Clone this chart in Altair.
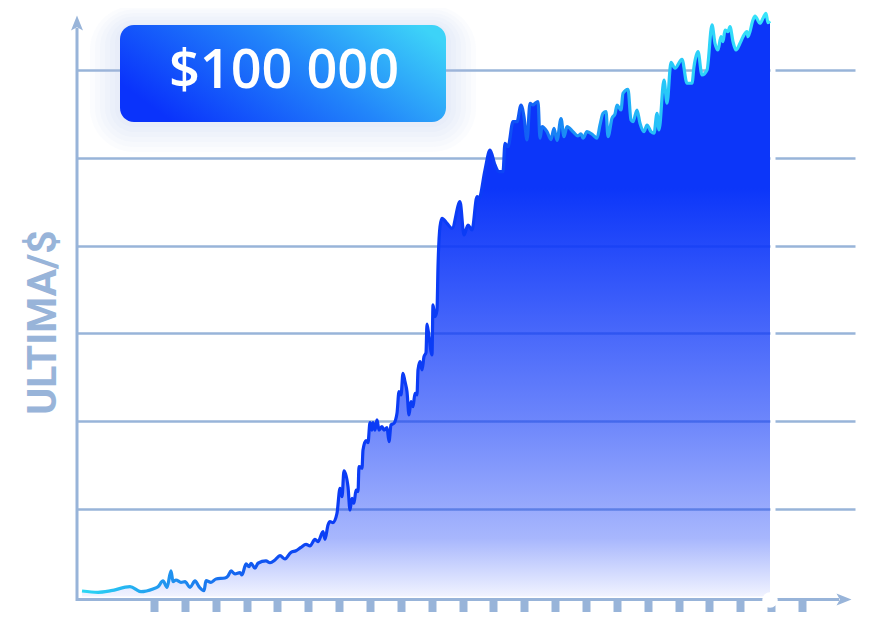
import altair as alt
import pandas as pd

# ---- data ----
days = [0, 16, 29, 48, 59, 71, 76, 81, 85, 89, 91, 94, 99, 103, 108, 113, 117, 122, 124, 129,
        134, 143, 146, 149, 153, 158, 160, 164, 167, 169, 173, 176, 184, 188, 193, 198, 203, 209, 214, 219,
        224, 228, 233, 236, 241, 243, 246, 248, 251, 255, 258, 260, 262, 266, 268, 270, 272, 274, 276, 277,
        280, 281, 284, 286, 288, 290, 291, 293, 295, 297, 300, 302, 305, 307, 309, 312, 315, 317, 319, 321,
        323, 325, 327, 329, 331, 333, 335, 336, 338, 340, 342, 344, 345, 347, 350, 351, 353, 355, 356, 358,
        360, 365, 370, 378, 382, 386, 390, 395, 397, 403, 408, 413, 417, 421, 423, 426, 431, 435, 439, 442,
        445, 448, 451, 453, 456, 458, 460, 465, 469, 472, 475, 479, 482, 485, 491, 496, 499, 501, 505, 511,
        515, 518, 521, 524, 526, 530, 533, 535, 539, 541, 546, 549, 551, 555, 558, 562, 565, 569, 572, 575,
        577, 582, 585, 589, 593, 600, 605, 610, 612, 616, 620, 625, 630, 633, 636, 639, 641, 643, 646, 648,
        651, 654, 658, 661, 665, 666, 671, 673, 678, 681, 684, 686, 688]
values = [0.63, 0.48, 0.66, 1.12, 0.55, 0.86, 1.12, 1.77, 1.05, 2.91, 1.69, 1.88, 1.62, 1.69, 1.05, 1.77, 1.12, 0.66, 1.80, 1.62,
          2.00, 2.11, 2.34, 2.91, 2.57, 2.71, 2.45, 3.71, 3.40, 3.79, 3.22, 3.79, 4.05, 3.85, 4.16, 4.65, 4.28, 5.04, 5.22, 5.61,
          5.95, 5.76, 6.52, 6.25, 7.39, 6.52, 8.15, 8.53, 8.42, 9.49, 12.34, 11.38, 14.34, 12.52, 9.86, 11.20, 10.63, 12.14, 11.95, 14.80,
          14.62, 16.70, 17.77, 17.54, 19.82, 18.98, 19.82, 18.98, 20.13, 18.98, 19.36, 18.98, 19.25, 17.65, 19.56, 19.75, 20.89, 23.35, 22.98, 25.45,
          24.49, 23.35, 20.70, 22.21, 21.64, 23.17, 22.98, 25.83, 26.77, 25.83, 27.34, 27.80, 31.07, 29.62, 27.54, 33.24, 31.90, 32.67, 37.61, 42.17,
          43.12, 42.55, 41.98, 45.02, 41.22, 42.36, 41.79, 45.59, 45.40, 48.63, 50.91, 49.20, 48.44, 48.44, 51.68, 51.29, 54.14, 54.14, 56.04, 54.71,
          52.05, 56.24, 56.04, 56.24, 56.42, 52.25, 53.57, 53.00, 52.10, 53.39, 52.00, 54.50, 52.43, 53.57, 53.00, 52.51, 52.74, 52.25, 53.00, 52.62,
          52.25, 53.76, 55.10, 55.28, 52.43, 54.53, 55.02, 56.04, 55.47, 57.38, 57.83, 54.33, 54.14, 55.47, 53.96, 53.00, 53.76, 53.00, 52.82, 55.10,
          53.19, 58.89, 56.24, 60.89, 60.23, 61.25, 58.52, 58.52, 60.41, 62.12, 59.46, 60.03, 65.17, 63.08, 62.31, 63.83, 63.26, 64.59, 64.40, 64.97,
          63.26, 62.31, 63.08, 63.83, 64.40, 63.83, 65.74, 66.19, 65.36, 65.93, 66.50, 65.43, 65.60]
grid_values = [10, 20, 30, 40, 50, 60]
tick_days = [72, 103, 134, 165, 195, 226, 257, 288, 319, 350, 381, 411, 442, 473, 504, 535, 566, 597,
             627, 658, 689, 720]
y_title = "ULTIMA/$"
badge_text = "$100 000"

AX = "#98b4d9"

df = pd.DataFrame({"t": days, "v": values})
end_df = df.tail(1)
one = pd.DataFrame({"k": [0]})

xs = alt.Scale(domain=[-5, 773], nice=False, zero=False)
ys = alt.Scale(domain=[-0.4, 65.96], nice=False, zero=False)

x_axis = alt.Axis(values=tick_days, labels=False, domain=False, grid=False,
                  ticks=True, tickSize=12, tickWidth=8, tickColor=AX, title=None)
y_axis = alt.Axis(values=grid_values, grid=True, gridColor=AX, gridWidth=2.5,
                  domain=False, ticks=False, labels=False, title=y_title,
                  titleFont="Roboto", titleFontSize=41, titleFontWeight="bold",
                  titleColor=AX, titleAngle=270, titleX=-22, titleY=304,
                  titleAlign="center", titleBaseline="alphabetic")

area_fill = alt.Gradient(
    gradient="linear", x1=0, y1=0, x2=0, y2=1,
    stops=[
        alt.GradientStop(color="rgba(12,54,249,1)", offset=0),
        alt.GradientStop(color="rgba(12,54,249,1)", offset=0.3),
        alt.GradientStop(color="rgba(12,54,249,0.8)", offset=0.5),
        alt.GradientStop(color="rgba(12,54,249,0.6)", offset=0.7),
        alt.GradientStop(color="rgba(12,54,249,0.36)", offset=0.9),
        alt.GradientStop(color="rgba(12,54,249,0.06)", offset=1),
    ],
)
line_stroke = alt.Gradient(
    gradient="linear", x1=0, y1=0, x2=1, y2=0,
    stops=[
        alt.GradientStop(color="#2bd8f4", offset=0),
        alt.GradientStop(color="#2196ef", offset=0.12),
        alt.GradientStop(color="#1158f0", offset=0.25),
        alt.GradientStop(color="#0b3cf5", offset=0.36),
        alt.GradientStop(color="#0b3cf6", offset=0.6),
        alt.GradientStop(color="#1a8cf5", offset=0.7),
        alt.GradientStop(color="#28c8f8", offset=0.85),
        alt.GradientStop(color="#38e6fa", offset=1),
    ],
)
badge_fill = alt.Gradient(
    gradient="linear", x1=0, y1=0.6, x2=1, y2=0.2,
    stops=[
        alt.GradientStop(color="#0a33fb", offset=0),
        alt.GradientStop(color="#2286fa", offset=0.55),
        alt.GradientStop(color="#3dd3f8", offset=1),
    ],
)

layers = []

area = alt.Chart(df).mark_area(interpolate="monotone", fill=area_fill).encode(
    x=alt.X("t:Q", scale=xs, axis=x_axis),
    y=alt.Y("v:Q", scale=ys, axis=y_axis),
    y2=alt.value(581),
)
layers.append(area)

# badge glow
for d in [30, 25, 20, 15, 10, 5]:
    layers.append(
        alt.Chart(one).mark_rect(cornerRadius=14 + d, color="#b4bcf5", opacity=0.05).encode(
            x=alt.value(43 - d), x2=alt.value(369 + d), y=alt.value(9 - d * 0.7), y2=alt.value(104 + d)
        )
    )

gap = alt.Chart(end_df).mark_rule(color="white", strokeWidth=5, xOffset=3).encode(
    x=alt.X("t:Q", scale=xs, axis=x_axis), y=alt.value(-12), y2=alt.value(579)
)
layers.append(gap)

line = alt.Chart(df).mark_line(interpolate="monotone", stroke=line_stroke, strokeWidth=3.2).encode(
    x=alt.X("t:Q", scale=xs, axis=x_axis), y=alt.Y("v:Q", scale=ys, axis=y_axis)
)
layers.append(line)

x_axis_line = alt.Chart(one).mark_rule(color=AX, strokeWidth=3).encode(
    x=alt.value(0), x2=alt.value(762), y=alt.value(581.5)
)
y_axis_line = alt.Chart(one).mark_rule(color=AX, strokeWidth=3).encode(
    x=alt.value(0), y=alt.value(583), y2=alt.value(10)
)
x_arrow = alt.Chart(one).mark_point(shape="M1,0L-1,-0.8L-0.55,0L-1,0.8Z", filled=True, size=225,
                                     color=AX, opacity=1).encode(x=alt.value(767), y=alt.value(581.5))
y_arrow = alt.Chart(one).mark_point(shape="M0,-1L0.8,1L0,0.55L-0.8,1Z", filled=True, size=225,
                                     color=AX, opacity=1).encode(x=alt.value(0), y=alt.value(5))
layers += [x_axis_line, y_axis_line, x_arrow, y_arrow]

end_dot = alt.Chart(end_df).mark_circle(size=240, color="white", opacity=1).encode(
    x=alt.X("t:Q", scale=xs, axis=x_axis), y=alt.value(582)
)
layers.append(end_dot)

badge = alt.Chart(one).mark_rect(cornerRadius=14, fill=badge_fill).encode(
    x=alt.value(43), x2=alt.value(369), y=alt.value(7), y2=alt.value(104)
)
badge_label = alt.Chart(one).mark_text(text=badge_text, font="Open Sans", fontSize=54, fontWeight=600,
                                       color="white", align="center", baseline="middle").encode(
    x=alt.value(207), y=alt.value(54)
)
layers += [badge, badge_label]

chart = alt.layer(*layers).properties(
    width=778, height=582,
    padding={"left": 69, "top": 10, "right": 9, "bottom": 12},
    autosize=alt.AutoSizeParams(type="none"),
).configure(background="white").configure_view(stroke="transparent", strokeWidth=0)

chart.save("out.html", embed_options={"renderer": "svg", "actions": False})
